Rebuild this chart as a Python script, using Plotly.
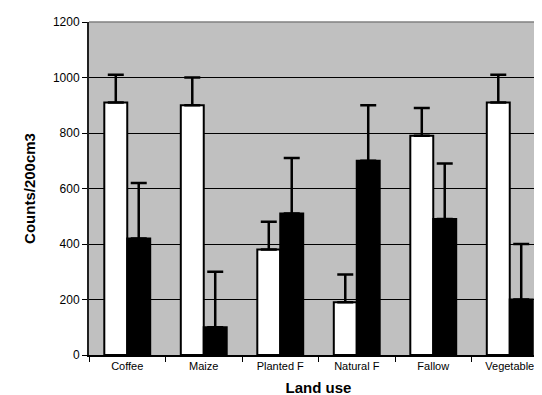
import plotly.graph_objects as go

categories = ["Coffee", "Maize", "Planted F", "Natural F", "Fallow", "Vegetable"]
white_vals = [910, 900, 380, 190, 790, 910]
white_err = [100, 100, 100, 100, 100, 100]
black_vals = [420, 100, 510, 700, 490, 200]
black_err = [200, 200, 200, 200, 200, 200]
y_ticks = [0, 200, 400, 600, 800, 1000, 1200]

fig = go.Figure()
fig.add_trace(go.Bar(
    x=categories, y=white_vals, name="A",
    marker=dict(color="white", line=dict(color="black", width=2)),
    error_y=dict(type="data", symmetric=False, array=white_err,
                 arrayminus=[0] * len(white_err), color="black", thickness=2.5, width=8),
))
fig.add_trace(go.Bar(
    x=categories, y=black_vals, name="B",
    marker=dict(color="black", line=dict(color="black", width=2)),
    error_y=dict(type="data", symmetric=False, array=black_err,
                 arrayminus=[0] * len(black_err), color="black", thickness=2.5, width=8),
))

fig.update_layout(
    width=542, height=395,
    margin=dict(l=81, r=2, t=14, b=48),
    paper_bgcolor="white", plot_bgcolor="#C0C0C0",
    barmode="group", bargap=0.4, bargroupgap=0,
    showlegend=False,
    font=dict(family="Liberation Sans, Arial, sans-serif", color="black"),
    xaxis=dict(
        automargin=False,
        showgrid=False, showline=True, linecolor="black", linewidth=1.5,
        ticks="outside", tickson="boundaries", ticklen=5, tickcolor="black",
        tickfont=dict(size=11),
        title=dict(text="<b>Land use</b>", font=dict(size=15), standoff=12),
    ),
    yaxis=dict(
        automargin=False,
        range=[0, 1200], tickvals=y_ticks, showgrid=True, gridcolor="black", gridwidth=1,
        showline=True, linecolor="#202020", linewidth=2, zeroline=False,
        ticks="outside", ticklen=5, tickcolor="black",
        tickfont=dict(size=12),
        title=dict(text="<b>Counts/200cm3</b>", font=dict(size=15), standoff=14),
    ),
    shapes=[
        dict(type="line", xref="paper", yref="paper", x0=0, x1=1, y0=1, y1=1,
             line=dict(color="#808080", width=1.5), layer="above"),
        dict(type="line", xref="paper", yref="paper", x0=1, x1=1, y0=0, y1=1,
             line=dict(color="#808080", width=1.5), layer="above"),
    ],
)

fig.write_html("out.html")
